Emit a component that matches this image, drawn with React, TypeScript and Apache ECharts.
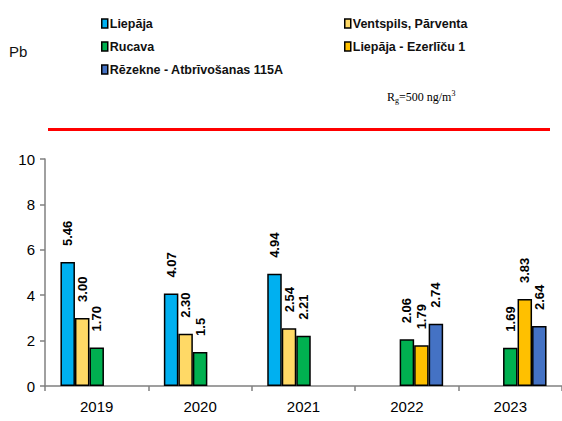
import React, { useEffect, useRef } from "react";
import * as echarts from "echarts";

const years = ["2019", "2020", "2021", "2022", "2023"];
const seriesNames = [
  "Liepāja",
  "Ventspils, Pārventa",
  "Rucava",
  "Liepāja - Ezerlīču 1",
  "Rēzekne - Atbrīvošanas 115A",
];
const liepaja = [5.46, 4.07, 4.94, null, null];
const ventspils = [3.0, 2.3, 2.54, null, null];
const rucava = [1.7, 1.5, 2.21, 2.06, 1.69];
const ezerlicu = [null, null, null, 1.79, 3.83];
const rezekne = [null, null, null, 2.74, 2.64];
const labelsLiepaja = ["5.46", "4.07", "4.94", "", ""];
const labelsVentspils = ["3.00", "2.30", "2.54", "", ""];
const labelsRucava = ["1.70", "1.5", "2.21", "2.06", "1.69"];
const labelsEzerlicu = ["", "", "", "1.79", "3.83"];
const labelsRezekne = ["", "", "", "2.74", "2.64"];
const colors = ["#00B0F0", "#FFD966", "#00B050", "#FFC000", "#4472C4"];
const yTicks = { min: 0, max: 10, interval: 2 };

const SANS = "'Liberation Sans', Arial, sans-serif";
const SERIF = "'Liberation Serif', 'Times New Roman', serif";

export default function App() {
  const ref = useRef<HTMLDivElement>(null);
  useEffect(() => {
    if (!ref.current) return;
    const chart = echarts.init(ref.current, null, { renderer: "svg" });
    const values = [liepaja, ventspils, rucava, ezerlicu, rezekne];
    const labels = [labelsLiepaja, labelsVentspils, labelsRucava, labelsEzerlicu, labelsRezekne];
    const series = values.map((vals, i) => ({
      name: seriesNames[i],
      type: "bar",
      data: vals,
      barWidth: 14.5,
      barGap: "0%",
      itemStyle: { color: colors[i], borderColor: "#000", borderWidth: 1.5 },
      label: {
        show: true,
        position: "top",
        rotate: 90,
        align: "left",
        verticalAlign: "middle",
        distance: 16,
        fontFamily: SANS,
        fontWeight: "bold",
        fontSize: 13,
        color: "#000",
        formatter: (p: any) => labels[i][p.dataIndex],
      },
    }));
    const legendCommon = {
      orient: "vertical",
      icon: "rect",
      itemWidth: 6,
      itemHeight: 9,
      itemGap: 10,
      itemStyle: { borderColor: "#000", borderWidth: 1.5 },
      textStyle: {
        fontFamily: SANS,
        fontWeight: "bold",
        fontSize: 12.5,
        color: "#111",
        padding: [0, 0, 0, -3],
      },
    };
    chart.setOption({
      animation: false,
      backgroundColor: "#fff",
      color: colors,
      legend: [
        { ...legendCommon, left: 96, top: 12, data: [seriesNames[0], seriesNames[2], seriesNames[4]] },
        { ...legendCommon, left: 339, top: 12, data: [seriesNames[1], seriesNames[3]] },
      ],
      grid: { left: 45, right: -5, top: 159, bottom: 35, containLabel: false },
      xAxis: {
        type: "category",
        data: years,
        axisLine: { lineStyle: { color: "#808080", width: 1.5 } },
        axisTick: { show: true, length: 5, lineStyle: { color: "#808080", width: 1.5 } },
        axisLabel: { fontFamily: SANS, fontSize: 15, color: "#000", margin: 13 },
      },
      yAxis: {
        type: "value",
        min: yTicks.min,
        max: yTicks.max,
        interval: yTicks.interval,
        splitLine: { show: false },
        axisLine: { show: true, lineStyle: { color: "#808080", width: 1.5 } },
        axisTick: { show: true, length: 5, lineStyle: { color: "#808080", width: 1.5 } },
        axisLabel: { fontFamily: SANS, fontSize: 15, color: "#000", margin: 10 },
      },
      graphic: [
        {
          type: "line",
          shape: { x1: 48, y1: 129.5, x2: 550, y2: 129.5 },
          style: { stroke: "#FF0000", lineWidth: 3 },
        },
        {
          type: "text",
          left: 9,
          top: 44,
          style: { text: "Pb", font: `15px ${SANS}`, fill: "#111" },
        },
        {
          type: "text",
          left: 387,
          top: 89,
          style: {
            text: "{r|R}{s|g}{r|=500 ng/m}{p|3}",
            fill: "#000",
            rich: {
              r: { fontFamily: SERIF, fontSize: 12, fill: "#000" },
              s: { fontFamily: SERIF, fontSize: 8, fill: "#000", padding: [8, 0, 0, 0] },
              p: { fontFamily: SERIF, fontSize: 8, fill: "#000", padding: [0, 0, 7, 0] },
            },
          },
        },
      ],
      series,
    });
    return () => chart.dispose();
  }, []);
  return (
    <div
      ref={ref}
      style={{ position: "fixed", left: 0, top: 0, width: 562, height: 421 }}
    />
  );
}
